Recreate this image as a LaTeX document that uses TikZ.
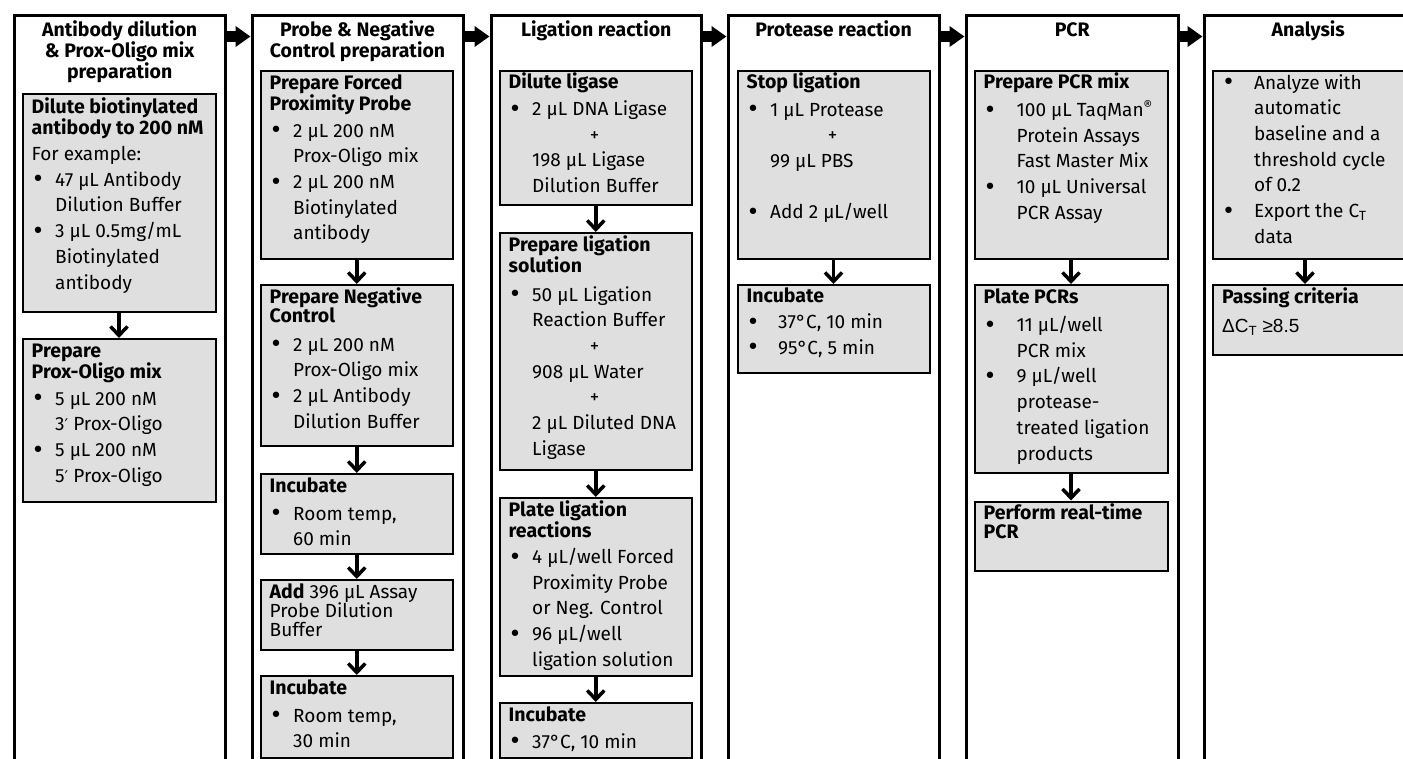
\documentclass[tikz,border=0pt]{standalone}
\usepackage{fontspec}
\setmainfont{Fira Sans}
\newfontfamily\arialf{Liberation Sans}
\newfontfamily\djv{DejaVu Sans}
\usetikzlibrary{arrows.meta}
\definecolor{boxgray}{RGB}{223,223,223}
\newcommand\bu[1][23.5]{\makebox[#1pt][l]{\raisebox{-0.6pt}{\djv\fontsize{22}{22}\selectfont •}}}
\newcommand\ct[1][23.5]{\hspace*{#1pt}}
\newcommand\pl{\makebox[172pt][c]{+}}
\newcommand\prm{{\djv\fontsize{16}{16}\selectfont ′}}
\newcommand\tl[1]{\vtop{\let\\\cr\halign{##\hfil\cr#1\crcr}}}
\newcommand\tc[1]{\vtop{\let\\\cr\halign{\hfil##\hfil\cr#1\crcr}}}
\tikzset{
  frame/.style={draw, line width=3pt, rectangle, anchor=north west, inner sep=0pt},
  box/.style={draw, line width=2pt, fill=boxgray, rectangle, anchor=north west, inner sep=0pt},
  ttl/.style={font=\fontsize{19.5}{19.5}\selectfont\bfseries, inner sep=0pt, anchor=base},
  hd/.style={font=\fontsize{19.5}{19.3}\selectfont\bfseries, inner sep=0pt, anchor=base west},
  hdn/.style={font=\fontsize{19}{19.3}\selectfont, inner sep=0pt, anchor=base west},
  bd/.style={font=\fontsize{19}{25.7}\selectfont, inner sep=0pt, anchor=base west},
  colarrow/.style={line width=10.5pt, -{Triangle[length=15pt,width=20pt]}},
  dnarrow/.style={line width=3.5pt, -{Straight Barb[length=9pt,width=17pt]}},
}
\begin{document}
\begin{tikzpicture}[x=1pt,y=-1pt]
\useasboundingbox (0,0) rectangle (1403,758);
\clip (0,0) rectangle (1403,758);
\fill[white] (0,0) rectangle (1403,758);
% column frames
\node[frame, minimum width=210.7, minimum height=800] (colA) at (12.8,13.5) {};
\node[frame, minimum width=211, minimum height=800] (colB) at (250.5,13.5) {};
\node[frame, minimum width=210.5, minimum height=800] (colC) at (489.5,13.5) {};
\node[frame, minimum width=211, minimum height=800] (colD) at (726.5,13.5) {};
\node[frame, minimum width=212.5, minimum height=800] (colE) at (964.5,13.5) {};
\node[frame, minimum width=208.5, minimum height=800] (colF) at (1202.5,13.5) {};
% titles
\node[ttl] (tA) at ([shift={(0,23)}]colA.north) {\tc{Antibody dilution\\\& Prox-Oligo mix\\preparation}};
\node[ttl] (tB) at ([shift={(0,23)}]colB.north) {\tc{Probe \& Negative\\Control preparation}};
\node[ttl] (tC) at ([shift={(0,23)}]colC.north) {Ligation reaction};
\node[ttl] (tD) at ([shift={(0,23)}]colD.north) {Protease reaction};
\node[ttl] (tE) at ([shift={(0,23)}]colE.north) {PCR};
\node[ttl] (tF) at ([shift={(0,23)}]colF.north) {Analysis};
% column arrows
\draw[colarrow] ([yshift=-23pt]colA.north east) -- ([yshift=-23pt]colB.north west);
\draw[colarrow] ([yshift=-23pt]colB.north east) -- ([yshift=-23pt]colC.north west);
\draw[colarrow] ([yshift=-23pt]colC.north east) -- ([yshift=-23pt]colD.north west);
\draw[colarrow] ([yshift=-23pt]colD.north east) -- ([yshift=-23pt]colE.north west);
\draw[colarrow] ([yshift=-23pt]colE.north east) -- ([yshift=-23pt]colF.north west);
% boxes column A
\node[box, minimum width=193, minimum height=218] (a1) at (21.5,93) {};
\node[box, minimum width=193, minimum height=162.5] (a2) at (21.5,338) {};
% column B
\node[box, minimum width=192.5, minimum height=188] (b1) at (259.5,70) {};
\node[box, minimum width=192.5, minimum height=160.5] (b2) at (259.5,284) {};
\node[box, minimum width=192.5, minimum height=80] (b3) at (259.5,473) {};
\node[box, minimum width=192.5, minimum height=70] (b4) at (259.5,579) {};
\node[box, minimum width=192.5, minimum height=82] (b5) at (259.5,675) {};
% column C
\node[box, minimum width=192.5, minimum height=134] (c1) at (498.5,70) {};
\node[box, minimum width=192.5, minimum height=237] (c2) at (498.5,232) {};
\node[box, minimum width=192.5, minimum height=178] (c3) at (498.5,497) {};
\node[box, minimum width=192.5, minimum height=55] (c4) at (498.5,702) {};
% column D
\node[box, minimum width=192, minimum height=188] (d1) at (736.5,70) {};
\node[box, minimum width=192, minimum height=88] (d2) at (736.5,284) {};
% column E
\node[box, minimum width=193, minimum height=188] (e1) at (973.5,70) {};
\node[box, minimum width=193, minimum height=188] (e2) at (973.5,284) {};
\node[box, minimum width=193, minimum height=69.5] (e3) at (973.5,500.5) {};
% column F
\node[box, minimum width=198, minimum height=188] (f1) at (1212,70) {};
\node[box, minimum width=198, minimum height=70] (f2) at (1212,284) {};
% texts A
\node[hd] (a1h) at ([shift={(10,20)}]a1.north west) {\tl{Dilute biotinylated\\antibody to 200 nM}};
\node[bd] (a1b) at ([shift={(10,67.5)}]a1.north west) {\tl{For example:\\\bu 47 µL Antibody\\\ct Dilution Buffer\\\bu 3 µL 0.5mg/mL\\\ct Biotinylated\\\ct antibody}};
\node[hd] (a2h) at ([shift={(10,19)}]a2.north west) {\tl{Prepare\\Prox-Oligo mix}};
\node[bd] (a2b) at ([shift={(10,67)}]a2.north west) {\tl{\bu 5 µL 200 nM\\\ct 3\prm\hspace{5pt}Prox-Oligo\\\bu 5 µL 200 nM\\\ct 5\prm\hspace{5pt}Prox-Oligo}};
% texts B
\node[hd] (b1h) at ([shift={(10,19)}]b1.north west) {\tl{Prepare Forced\\Proximity Probe}};
\node[bd] (b1b) at ([shift={(10,67)}]b1.north west) {\tl{\bu 2 µL 200 nM\\\ct Prox-Oligo mix\\\bu 2 µL 200 nM\\\ct Biotinylated\\\ct antibody}};
\node[hd] (b2h) at ([shift={(10,19)}]b2.north west) {\tl{Prepare Negative\\Control}};
\node[bd] (b2b) at ([shift={(10,67)}]b2.north west) {\tl{\bu 2 µL 200 nM\\\ct Prox-Oligo mix\\\bu 2 µL Antibody\\\ct Dilution Buffer}};
\node[hd] (b3h) at ([shift={(10,19)}]b3.north west) {Incubate};
\node[bd] (b3b) at ([shift={(10,47)}]b3.north west) {\tl{\bu Room temp,\\\ct 60 min}};
\node[hdn] (b4h) at ([shift={(10,19)}]b4.north west) {\tl{\textbf{\fontsize{19.5}{19.3}\selectfont Add} 396 µL Assay\\Probe Dilution\\Buffer}};
\node[hd] (b5h) at ([shift={(10,19)}]b5.north west) {Incubate};
\node[bd] (b5b) at ([shift={(10,47)}]b5.north west) {\tl{\bu Room temp,\\\ct 30 min}};
% texts C
\node[hd] (c1h) at ([shift={(10,18.5)}]c1.north west) {Dilute ligase};
\node[bd] (c1b) at ([shift={(10,45.5)}]c1.north west) {\tl{\bu 2 µL DNA Ligase\\\pl\\\ct 198 µL Ligase\\\ct Dilution Buffer}};
\node[hd] (c2h) at ([shift={(10,19)}]c2.north west) {\tl{Prepare ligation\\solution}};
\node[bd] (c2b) at ([shift={(10,69)}]c2.north west) {\tl{\bu 50 µL Ligation\\\ct Reaction Buffer\\\pl\\\ct 908 µL Water\\\pl\\\ct 2 µL Diluted DNA\\\ct Ligase}};
\node[hd] (c3h) at ([shift={(10,19)}]c3.north west) {\tl{Plate ligation\\reactions}};
\node[bd] (c3b) at ([shift={(10,66.5)}]c3.north west) {\tl{\bu 4 µL/well Forced\\\ct Proximity Probe\\\ct or Neg. Control\\\bu 96 µL/well\\\ct ligation solution}};
\node[hd] (c4h) at ([shift={(10,19)}]c4.north west) {Incubate};
\node[bd] (c4b) at ([shift={(10,46)}]c4.north west) {\bu 37°C, 10 min};
% texts D
\node[hd] (d1h) at ([shift={(10,18.5)}]d1.north west) {Stop ligation};
\node[bd] (d1b) at ([shift={(10,46)}]d1.north west) {\tl{\bu 1 µL Protease\\\pl\\\ct 99 µL PBS\\\mbox{}\\\bu Add 2 µL/well}};
\node[hd] (d2h) at ([shift={(10,18.5)}]d2.north west) {Incubate};
\node[bd] (d2b) at ([shift={(10,44.5)}]d2.north west) {\tl{\bu[31.5]37°C, 10 min\\\bu[31.5]95°C, 5 min}};
% texts E
\node[hd] (e1h) at ([shift={(10,18.5)}]e1.north west) {Prepare PCR mix};
\node[bd] (e1b) at ([shift={(10,46.5)}]e1.north west) {\tl{\bu[33]100 µL TaqMan\textsuperscript{®}\\\ct[33]Protein Assays\\\ct[33]Fast Master Mix\\\bu[33]10 µL Universal\\\ct[33]PCR Assay}};
\node[hd] (e2h) at ([shift={(10,19)}]e2.north west) {Plate PCRs};
\node[bd] (e2b) at ([shift={(10,47.5)}]e2.north west) {\tl{\bu[33]11 µL/well\\\ct[33]PCR mix\\\bu[33]9 µL/well\\\ct[33]protease-\\\ct[33]treated ligation\\\ct[33]products}};
\node[hd] (e3h) at ([shift={(10,19)}]e3.north west) {\tl{Perform real-time\\PCR}};
% texts F
\node[bd] (f1b) at ([shift={(10,19)}]f1.north west) {\tl{\bu[32]Analyze with\\\ct[32]automatic\\\ct[32]baseline and a\\\ct[32]threshold cycle\\\ct[32]of 0.2\\\bu[32]Export the C\textsubscript{T}\\\ct[32]data}};
\node[hd] (f2h) at ([shift={(10,19)}]f2.north west) {Passing criteria};
\node[bd] (f2b) at ([shift={(10,48)}]f2.north west) {\arialf ΔC\textsubscript{T} ≥8.5};
% step arrows
\draw[dnarrow] (a1.south) -- (a1.south |- a2.north);
\draw[dnarrow] (b1) -- (b2);
\draw[dnarrow] (b2) -- (b3);
\draw[dnarrow] (b3) -- (b4);
\draw[dnarrow] (b4) -- (b5);
\draw[dnarrow] (c1) -- (c2);
\draw[dnarrow] (c2) -- (c3);
\draw[dnarrow] (c3) -- (c4);
\draw[dnarrow] (d1) -- (d2);
\draw[dnarrow] (e1) -- (e2);
\draw[dnarrow] (e2) -- (e3);
\draw[dnarrow] ([xshift=-7pt]f1.south) -- ([xshift=-7pt]f2.north);
\end{tikzpicture}
\end{document}
